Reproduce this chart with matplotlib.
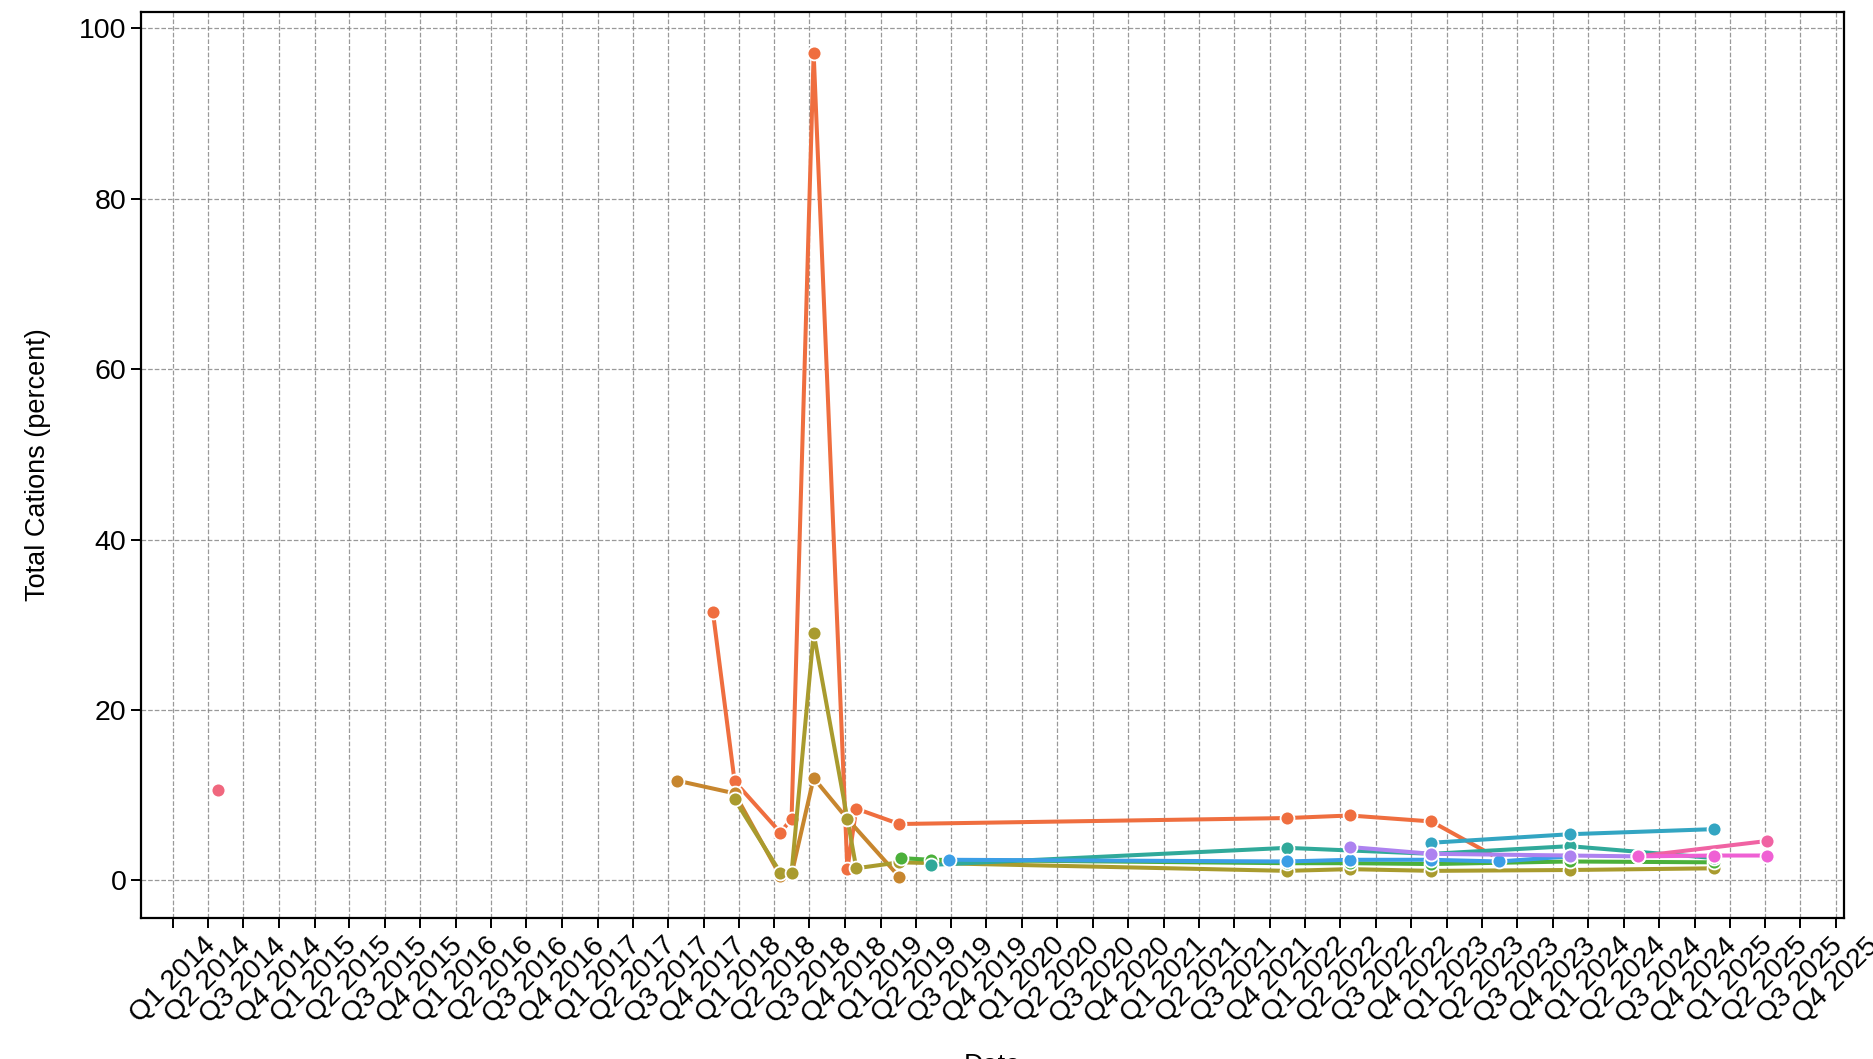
import pandas as pd
import matplotlib
matplotlib.use('Agg')
import matplotlib.pyplot as plt

plt.rcParams['font.family'] = ['Liberation Sans', 'DejaVu Sans']

# one entry per series: dates and total cations (percent)
s1_dates = ['2014-04-28']
s1_vals = [10.6]

s2_dates = ['2017-10-25', '2017-12-20', '2018-04-17', '2018-05-16', '2018-07-12', '2018-10-07',
            '2018-10-30', '2019-02-18', '2021-11-14', '2022-04-26', '2022-11-22', '2023-05-16']
s2_vals = [31.5, 11.6, 5.6, 7.2, 97.1, 1.3, 8.4, 6.6, 7.3, 7.6, 6.9, 2.5]

s3_dates = ['2017-07-24', '2017-12-20', '2018-04-17', '2018-05-16', '2018-07-12', '2018-10-07', '2019-02-18']
s3_vals = [11.7, 10.2, 0.5, 0.7, 12.0, 7.2, 0.4]

s4_dates = ['2017-12-20', '2018-04-17', '2018-05-16', '2018-07-12', '2018-10-07', '2018-10-30',
            '2019-02-18', '2021-11-14', '2022-04-26', '2022-11-22', '2023-11-14', '2024-11-21']
s4_vals = [9.5, 0.9, 0.9, 29.0, 7.2, 1.4, 2.1, 1.1, 1.3, 1.1, 1.2, 1.4]

s5_dates = ['2019-02-22', '2019-05-10', '2021-11-14', '2022-04-26', '2022-11-22', '2023-11-14', '2024-11-21']
s5_vals = [2.6, 2.4, 2.0, 2.0, 1.9, 2.2, 2.1]

s6_dates = ['2019-05-10', '2021-11-14', '2022-11-22', '2023-11-14', '2024-11-21']
s6_vals = [1.8, 3.8, 3.1, 4.0, 2.6]

s7_dates = ['2022-11-22', '2023-11-14', '2024-11-21']
s7_vals = [4.4, 5.4, 6.0]

s8_dates = ['2019-06-26', '2021-11-14', '2022-04-26', '2022-11-22', '2023-05-16', '2023-11-14']
s8_vals = [2.4, 2.2, 2.4, 2.4, 2.2, 2.8]

s9_dates = ['2022-04-26', '2022-11-22', '2023-11-14', '2024-05-07']
s9_vals = [3.9, 3.1, 2.9, 2.8]

s10_dates = ['2024-05-07', '2025-04-05']
s10_vals = [2.8, 4.6]

s11_dates = ['2024-05-07', '2024-11-21', '2025-04-05']
s11_vals = [2.8, 2.9, 2.9]

series = [
    (s1_dates, s1_vals, '#f0677e'),
    (s2_dates, s2_vals, '#ef6e3f'),
    (s3_dates, s3_vals, '#c7862e'),
    (s4_dates, s4_vals, '#a99b2e'),
    (s5_dates, s5_vals, '#4bb03a'),
    (s6_dates, s6_vals, '#30a99a'),
    (s7_dates, s7_vals, '#33a5c2'),
    (s8_dates, s8_vals, '#3b9ee6'),
    (s9_dates, s9_vals, '#ad82f0'),
    (s10_dates, s10_vals, '#f063a3'),
    (s11_dates, s11_vals, '#ef60d4'),
]

fig = plt.figure(figsize=(18.74, 10.59), dpi=100)
ax = fig.add_axes([141 / 1874, 1 - 918 / 1059, 1703 / 1874, 906 / 1059])

for dates, vals, color in series:
    ax.plot(pd.to_datetime(dates), vals, color=color, linewidth=2.9, marker='o',
            markersize=10, markeredgecolor='white', markeredgewidth=1.3)

# quarterly ticks
quarters = pd.date_range('2014-01-01', '2025-10-01', freq='QS')
ax.set_xticks(quarters)
ax.set_xticklabels([f'Q{(d.month - 1) // 3 + 1} {d.year}' for d in quarters], rotation=45, fontsize=20.5)
ax.tick_params(axis='y', labelsize=20.5)
ax.tick_params(axis='both', length=7, width=1.4)

ax.set_ylabel('Total Cations (percent)', fontsize=19.5)
ax.yaxis.set_label_coords(-0.053, 0.5)
ax.set_xlabel('Date', fontsize=19.5)
ax.xaxis.set_label_coords(0.5, -0.149)

ax.grid(True, linestyle='--', color='gray', linewidth=0.9, alpha=0.8)
for sp in ax.spines.values():
    sp.set_linewidth(1.6)
    sp.set_color('black')

plt.savefig('out.png', dpi=100)
